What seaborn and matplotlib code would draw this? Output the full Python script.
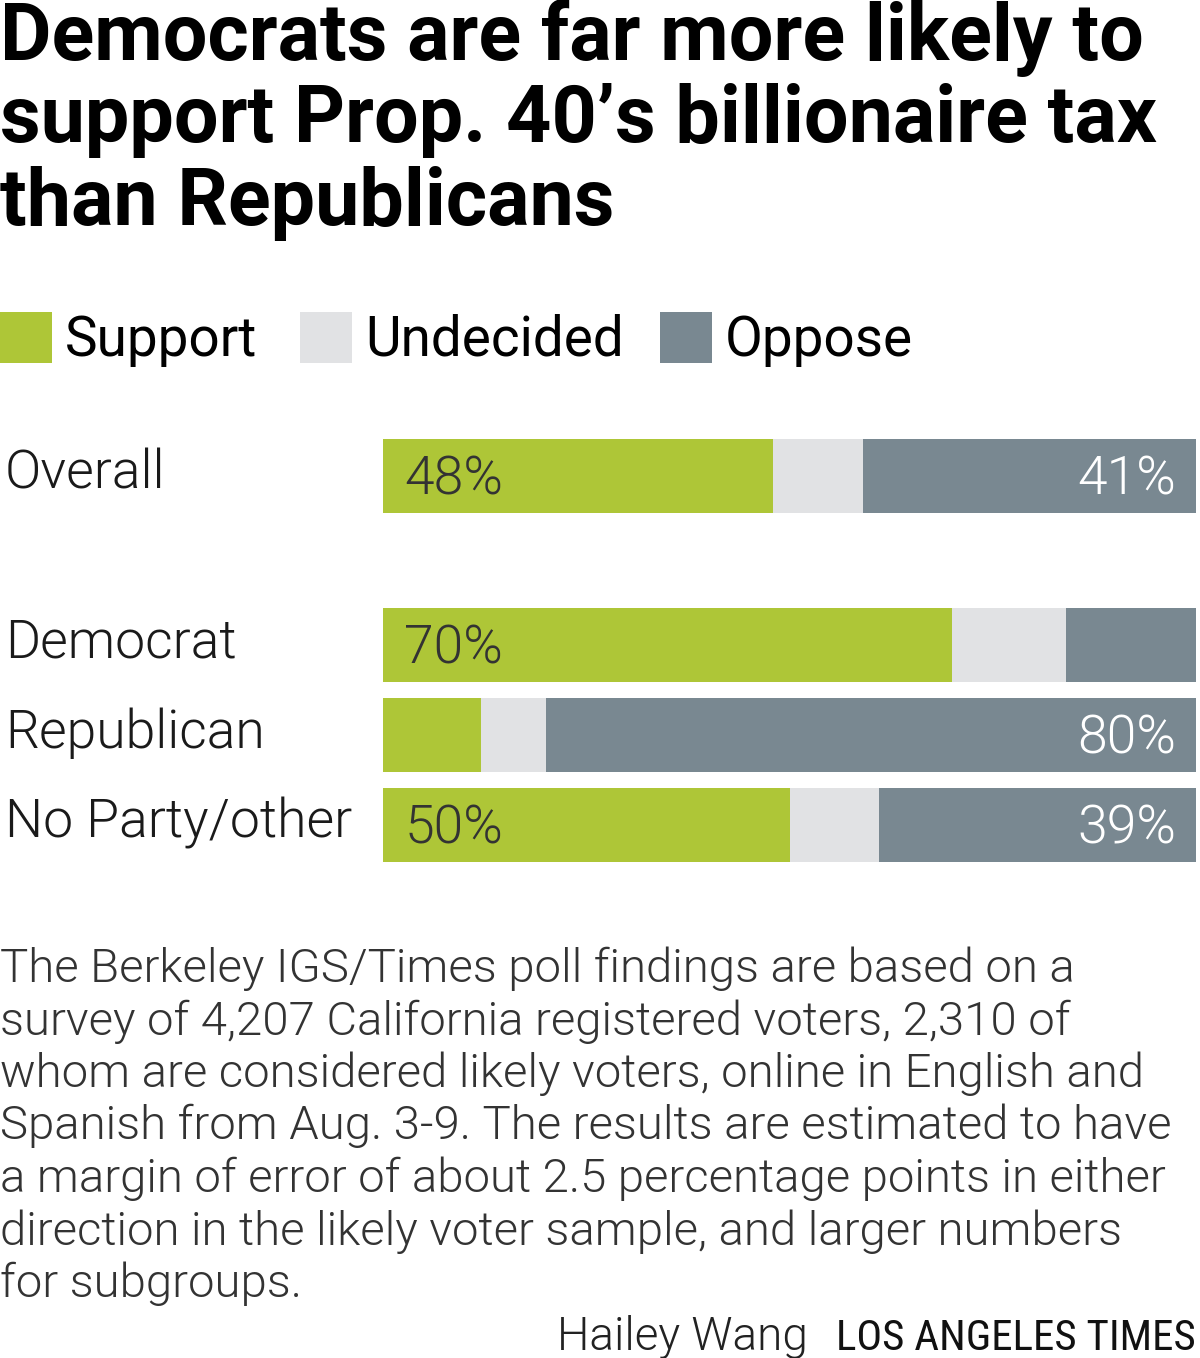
import matplotlib.pyplot as plt
import matplotlib.transforms as mtransforms
from matplotlib.patches import Rectangle
import seaborn as sns
import pandas as pd

# data
groups = ['Overall', 'Democrat', 'Republican', 'No Party/other']
support = [48, 70, 12, 50]
undecided = [11, 14, 8, 11]
oppose = [41, 16, 80, 39]
support_labels = ['48%', '70%', '', '50%']
oppose_labels = ['41%', '', '80%', '39%']
# row positions (extra gap after "Overall")
row_pos = [0, 1.88, 2.88, 3.88]

legend_labels = ['Support', 'Undecided', 'Oppose']

GREEN = '#aec637'
LIGHT = '#e1e2e4'
SLATE = '#798891'

title_lines = ["Democrats are far more likely to",
               "support Prop. 40\u2019s billionaire tax",
               "than Republicans"]
note_lines = ["The Berkeley IGS/Times poll findings are based on a",
              "survey of 4,207 California registered voters, 2,310 of",
              "whom are considered likely voters, online in English and",
              "Spanish from Aug. 3-9. The results are estimated to have",
              "a margin of error of about 2.5 percentage points in either",
              "direction in the likely voter sample, and larger numbers",
              "for subgroups."]

sns.set_theme(style='white')
FONT = ['Roboto', 'DejaVu Sans']
COND = ['Roboto Condensed', 'DejaVu Sans']
plt.rcParams['font.family'] = FONT

W, H = 1200, 1358
fig = plt.figure(figsize=(W / 100, H / 100), dpi=100)
fig.patch.set_facecolor('white')


def fx(px):
    return px / W


def fy(py):
    return 1 - py / H


ax = fig.add_axes([fx(383), fy(862), fx(1196) - fx(383), (862 - 439) / H])

df = pd.DataFrame({'group': groups, 'pos': row_pos,
                   'support': support, 'undecided': undecided,
                   'oppose': oppose})
df['su'] = df['support'] + df['undecided']
df['total'] = df['su'] + df['oppose']

# stacked bars: draw the cumulative layers back to front
for col, color in [('total', SLATE), ('su', LIGHT), ('support', GREEN)]:
    sns.barplot(data=df, x=col, y='pos', orient='h', native_scale=True,
                color=color, width=0.822, saturation=1, linewidth=0, ax=ax)

ax.set_xlim(0, 100)
ax.set_ylim(row_pos[-1] + 0.411, row_pos[0] - 0.411)
ax.axis('off')

for p, s_lab, o_lab in zip(row_pos, support_labels, oppose_labels):
    ax.text(2.6, p + 0.21, s_lab, ha='left', va='baseline',
            fontsize=38.5, fontweight=300, color='#333333')
    ax.text(97.6, p + 0.21, o_lab, ha='right', va='baseline',
            fontsize=38.5, fontweight=300, color='white')

# category labels on the left
trans = mtransforms.blended_transform_factory(fig.transFigure, ax.transData)
for p, g in zip(row_pos, groups):
    ax.text(fx(5), p + 0.14, g, transform=trans, ha='left', va='baseline',
            fontsize=38.5, fontweight=300, color='#1a1a1a')

# title, one line at a time
for i, line in enumerate(title_lines):
    fig.text(fx(0), fy(60 + 82.5 * i), line, ha='left', va='baseline',
             fontsize=57, fontweight='bold', color='black')

# legend
for x0, lab, color in zip([0, 300, 660], legend_labels, [GREEN, LIGHT, SLATE]):
    fig.add_artist(Rectangle((fx(x0), fy(363)), 52 / W, 51 / H,
                             transform=fig.transFigure, color=color, lw=0))
    fig.text(fx(x0 + 65), fy(356), lab, ha='left', va='baseline',
             fontsize=39.5, color='black')

# footnote
for i, line in enumerate(note_lines):
    fig.text(fx(0), fy(982 + 52.5 * i), line, ha='left', va='baseline',
             fontsize=34, fontweight=300, color='#333333')

# credits
fig.text(fx(808), fy(1350), 'Hailey Wang', ha='right', va='baseline',
         fontsize=33, fontweight=300, color='#222222')
fig.text(fx(1196), fy(1350), 'LOS ANGELES TIMES', ha='right', va='baseline',
         fontsize=31, family=COND, color='#111111')

fig.savefig('out.png', dpi=100)
